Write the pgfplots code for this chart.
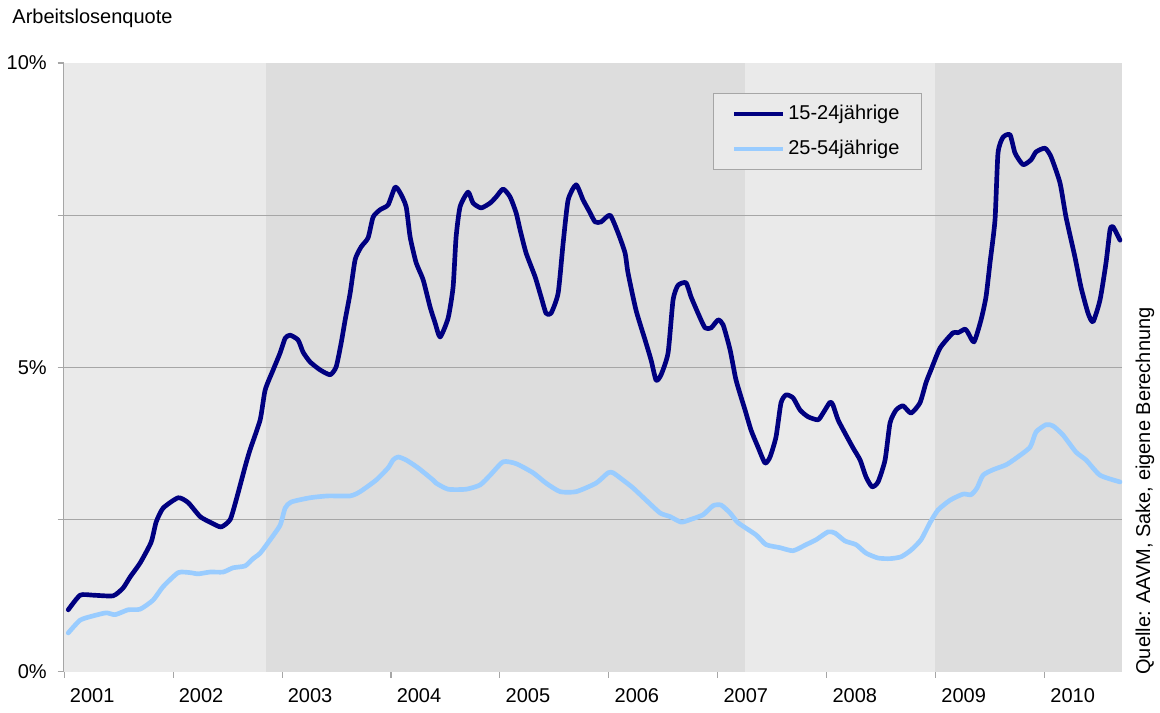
\documentclass[border=0pt]{standalone}
\usepackage{pgfplots}
\pgfplotsset{compat=1.18}
\usepackage{fontspec}
\setmainfont{Liberation Sans}
\definecolor{bglight}{HTML}{EAEAEA}
\definecolor{bgdark}{HTML}{DDDDDD}
\definecolor{navyl}{HTML}{000080}
\definecolor{skyl}{HTML}{99CCFF}
\definecolor{gridc}{HTML}{A6A6A6}
\begin{document}
\fontsize{15}{18}\selectfont
\begin{tikzpicture}
\draw[draw=none] (0,0) rectangle (870pt,534.75pt);
\begin{axis}[
  at={(47.6pt,30.75pt)}, anchor=south west,
  scale only axis, width=793.9pt, height=456.75pt,
  xmin=-0.06, xmax=116.52, ymin=0, ymax=10,
  axis x line*=bottom, axis y line*=left,
  axis line style={draw=gridc, line width=0.8pt, -},
  tick style={draw=gridc, line width=0.8pt},
  tick align=outside, major tick length=4.5pt,
  xtick={0,12,...,108},
  xticklabels={2001,2002,2003,2004,2005,2006,2007,2008,2009,2010},
  xticklabel style={xshift=21pt, yshift=-3pt},
  ytick={0,2.5,5,7.5,10},
  yticklabels={0\%,,5\%,,10\%},
  yticklabel style={xshift=-3pt},
  ticklabel style={font=\fontsize{15}{18}\selectfont},
  legend style={at={(0.6136,0.9507)}, anchor=north west, draw=gridc, fill=bglight,
    font=\fontsize{15}{18}\selectfont, inner xsep=14pt, inner ysep=7pt, row sep=9pt,
    cells={anchor=west}},
  legend image code/.code={\draw[#1, line cap=butt] (0pt,0pt) -- (36.75pt,0pt);},
]
\addplot[fill=bglight, draw=none, forget plot] coordinates {(-0.06,10) (22.25,10)} \closedcycle;
\addplot[fill=bgdark, draw=none, forget plot] coordinates {(22.25,10) (75.0,10)} \closedcycle;
\addplot[fill=bglight, draw=none, forget plot] coordinates {(75.0,10) (95.93,10)} \closedcycle;
\addplot[fill=bgdark, draw=none, forget plot] coordinates {(95.93,10) (116.52,10)} \closedcycle;
\addplot[gridc, line width=0.8pt, forget plot] coordinates {(-0.06,2.5) (116.52,2.5)};
\addplot[gridc, line width=0.8pt, forget plot] coordinates {(-0.06,5) (116.52,5)};
\addplot[gridc, line width=0.8pt, forget plot] coordinates {(-0.06,7.5) (116.52,7.5)};

\addplot[navyl, line width=3.5pt, line join=round, line cap=round, smooth, tension=0.35] coordinates {
(0.45,1.02) (1.76,1.26) (3.19,1.26) (5.40,1.25) (6.50,1.38) (7.27,1.56) (8.37,1.79)
(9.58,2.13) (10.13,2.46) (10.90,2.69) (12.56,2.86) (13.66,2.78) (14.98,2.55) (16.19,2.45)
(17.29,2.38) (18.28,2.50) (18.94,2.82) (19.93,3.37) (20.48,3.65) (21.59,4.14) (22.14,4.63)
(23.02,4.96) (23.79,5.24) (24.34,5.48) (24.89,5.53) (25.77,5.45) (26.32,5.25) (27.09,5.09)
(28.19,4.96) (29.30,4.88) (29.96,5.01) (30.51,5.40) (30.95,5.78) (31.50,6.22) (32.05,6.77)
(32.71,6.98) (33.48,7.13) (34.03,7.47) (34.80,7.59) (35.68,7.67) (36.45,7.96) (37.00,7.87)
(37.67,7.64) (38.11,7.14) (38.77,6.72) (39.54,6.44) (40.31,5.99) (40.86,5.73) (41.41,5.50)
(42.29,5.81) (42.84,6.32) (43.17,7.14) (43.61,7.64) (44.49,7.88) (45.04,7.70) (45.93,7.62)
(46.92,7.70) (47.58,7.80) (48.35,7.93) (49.12,7.80) (49.78,7.54) (50.22,7.26) (50.88,6.88)
(51.87,6.49) (52.53,6.16) (53.08,5.89) (53.63,5.89) (54.41,6.22) (54.96,7.04) (55.51,7.75)
(56.39,8.00) (57.16,7.75) (57.93,7.54) (58.48,7.39) (59.14,7.39) (60.13,7.50) (61.01,7.21)
(61.78,6.88) (62.11,6.55) (62.99,5.94) (63.99,5.45) (64.65,5.12) (65.20,4.79) (65.75,4.88)
(66.52,5.24) (67.07,6.11) (67.62,6.35) (68.50,6.39) (69.05,6.16) (69.82,5.89) (70.59,5.65)
(71.26,5.65) (72.03,5.78) (72.58,5.70) (73.35,5.29) (74.01,4.79) (75.00,4.30) (75.66,3.97)
(76.43,3.69) (77.20,3.43) (77.75,3.53) (78.41,3.86) (78.96,4.42) (79.52,4.55) (80.29,4.50)
(81.06,4.30) (81.94,4.19) (83.04,4.14) (83.59,4.25) (84.36,4.43) (84.69,4.38) (85.24,4.14)
(86.01,3.92) (86.89,3.68) (87.67,3.48) (88.33,3.20) (88.99,3.04) (89.65,3.12) (90.42,3.48)
(90.97,4.09) (91.63,4.30) (92.40,4.37) (93.28,4.25) (94.27,4.42) (94.93,4.75) (95.48,4.96)
(96.48,5.32) (97.91,5.57) (98.46,5.57) (99.23,5.63) (99.56,5.57) (100.22,5.42) (100.99,5.78)
(101.54,6.16) (101.98,6.72) (102.53,7.42) (102.86,8.52) (103.41,8.78) (104.19,8.82) (104.74,8.52)
(105.62,8.33) (106.50,8.41) (107.05,8.54) (108.04,8.60) (108.70,8.46) (109.69,8.03) (110.35,7.47)
(111.34,6.81) (112.00,6.32) (112.78,5.89) (113.33,5.75) (114.10,6.11) (114.76,6.72) (115.20,7.26)
(115.53,7.31) (116.30,7.09)
};
\addlegendentry{15-24jährige}

\addplot[skyl, line width=3.5pt, line join=round, line cap=round, smooth, tension=0.35] coordinates {
(0.45,0.64) (1.76,0.85) (3.19,0.92) (4.63,0.97) (5.62,0.94) (7.05,1.02) (8.37,1.03)
(9.80,1.18) (10.90,1.40) (12.56,1.63) (13.88,1.63) (14.76,1.61) (16.08,1.64) (17.51,1.64)
(18.61,1.71) (19.93,1.74) (20.81,1.86) (21.59,1.95) (22.69,2.17) (23.79,2.41) (24.34,2.69)
(25.00,2.79) (27.09,2.86) (29.07,2.89) (31.50,2.89) (32.60,2.96) (34.36,3.15) (35.68,3.35)
(36.23,3.48) (36.78,3.53) (37.67,3.48) (38.99,3.35) (40.64,3.15) (40.97,3.10) (42.29,3.00)
(44.27,3.00) (45.81,3.07) (46.92,3.23) (48.35,3.45) (49.78,3.42) (51.65,3.27) (53.08,3.10)
(54.63,2.96) (56.39,2.96) (58.59,3.10) (59.91,3.27) (60.46,3.27) (61.56,3.15) (62.67,3.02)
(64.10,2.82) (65.64,2.61) (66.74,2.55) (67.95,2.46) (68.94,2.50) (70.37,2.58) (71.48,2.73)
(72.36,2.74) (73.35,2.61) (74.23,2.45) (76.21,2.25) (77.31,2.09) (78.85,2.04) (80.29,1.99)
(81.72,2.09) (82.82,2.17) (84.14,2.30) (84.91,2.28) (86.01,2.15) (87.22,2.09) (88.33,1.95)
(89.65,1.87) (90.97,1.86) (92.18,1.89) (93.28,2.00) (94.38,2.17) (95.37,2.45) (96.26,2.66)
(97.58,2.82) (99.01,2.92) (99.89,2.91) (100.55,3.02) (101.21,3.23) (102.31,3.32) (103.74,3.40)
(104.85,3.51) (106.39,3.69) (107.05,3.94) (108.15,4.06) (108.92,4.04) (110.02,3.89) (111.45,3.61)
(112.56,3.48) (114.10,3.23) (116.30,3.12)
};
\addlegendentry{25-54jährige}
\end{axis}
\node[anchor=west, inner sep=0pt] at (9pt,521.25pt) {Arbeitslosenquote};
\node[anchor=west, inner sep=0pt, rotate=90] at (858.75pt,28.5pt) {Quelle: AAVM, Sake, eigene Berechnung};
\end{tikzpicture}
\end{document}
